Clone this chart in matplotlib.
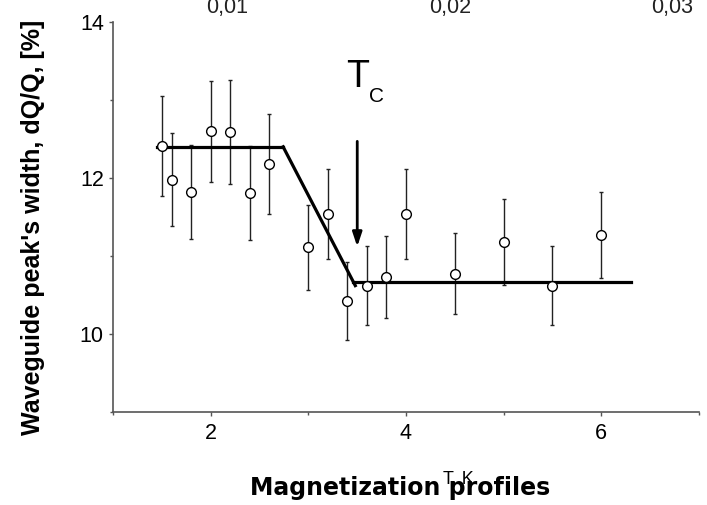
import matplotlib
matplotlib.use("Agg")
import matplotlib.pyplot as plt
from matplotlib.ticker import MultipleLocator

plt.rcParams['font.family'] = ['Liberation Sans', 'DejaVu Sans']

# measured points: temperature, peak width, error
temp = [1.5, 1.6, 1.8, 2.0, 2.2, 2.4, 2.6, 3.0, 3.2, 3.4, 3.6, 3.8, 4.0, 4.5, 5.0, 5.5, 6.0]
width = [12.41, 11.98, 11.82, 12.60, 12.59, 11.81, 12.18, 11.11, 11.54, 10.42, 10.62, 10.73, 11.54,
         10.77, 11.18, 10.62, 11.27]
err = [0.64, 0.60, 0.60, 0.65, 0.67, 0.60, 0.64, 0.55, 0.58, 0.50, 0.51, 0.52, 0.58,
       0.52, 0.55, 0.51, 0.55]

# guide lines (three segments)
high_x = [1.45, 2.74]
high_y = [12.40, 12.40]
slope_x = [2.74, 3.48]
slope_y = [12.40, 10.62]
low_x = [3.46, 6.31]
low_y = [10.67, 10.67]

tc = 3.5
top_labels = ['0,01', '0,02', '0,03']
top_pos = [227, 450, 672]   # pixel centres of the upper labels

fig = plt.figure(figsize=(7.07, 5.05), dpi=100)
ax = fig.add_axes([0.1605, 0.1842, 0.988 - 0.1605, 0.9564 - 0.1842])

ax.errorbar(temp, width, yerr=err, fmt='none', ecolor='#222222', elinewidth=1.0,
            capsize=1.5, capthick=1.0, zorder=2)
ax.plot(temp, width, 'o', ms=7, mfc='white', mec='black', mew=1.0, zorder=4)

ax.plot(high_x, high_y, color='black', lw=2.3, zorder=3)
ax.plot(slope_x, slope_y, color='black', lw=2.3, zorder=3)
ax.plot(low_x, low_y, color='black', lw=2.3, zorder=3)

ax.annotate('', xy=(tc, 11.12), xytext=(tc, 12.47),
            arrowprops=dict(arrowstyle='-|>,head_length=0.6,head_width=0.2', color='black', lw=2.0,
                            mutation_scale=14, shrinkA=0, shrinkB=0))
ax.text(tc, 13.17, 'T', fontsize=27, ha='center', va='baseline')
ax.text(3.62, 12.98, 'C', fontsize=15, ha='left', va='baseline')

ax.set_xlim(1, 7)
ax.set_ylim(9, 14)
ax.xaxis.set_minor_locator(MultipleLocator(1))
ax.yaxis.set_minor_locator(MultipleLocator(1))
ax.set_xticks([2, 4, 6])
ax.set_yticks([10, 12, 14])

for s in ['top', 'right']:
    ax.spines[s].set_visible(False)
for s in ['left', 'bottom']:
    ax.spines[s].set_color('#555555')
    ax.spines[s].set_linewidth(1.2)

ax.tick_params(which='both', direction='out', color='#555555', labelsize=15.5, pad=4)
ax.tick_params(which='major', length=3, width=1)
ax.tick_params(which='minor', length=2.5, width=1)
ax.tick_params(axis='x', pad=5)

for lab, px in zip(top_labels, top_pos):
    fig.text(px / 707, 1 - 13 / 505, lab, fontsize=15.5, ha='center', va='baseline', color='#222222')

fig.text(33 / 707, 1 - 227 / 505, "Waveguide peak's width, dQ/Q, [%]", rotation=90,
         fontsize=18, fontweight='bold', ha='center', va='center')
fig.text(458 / 707, 1 - 484 / 505, 'T, K', fontsize=13, ha='center', va='baseline')
fig.text(400 / 707, 1 - 495 / 505, 'Magnetization profiles', fontsize=17,
         fontweight='bold', family='DejaVu Sans', ha='center', va='baseline')

fig.savefig('out.png', dpi=100)
